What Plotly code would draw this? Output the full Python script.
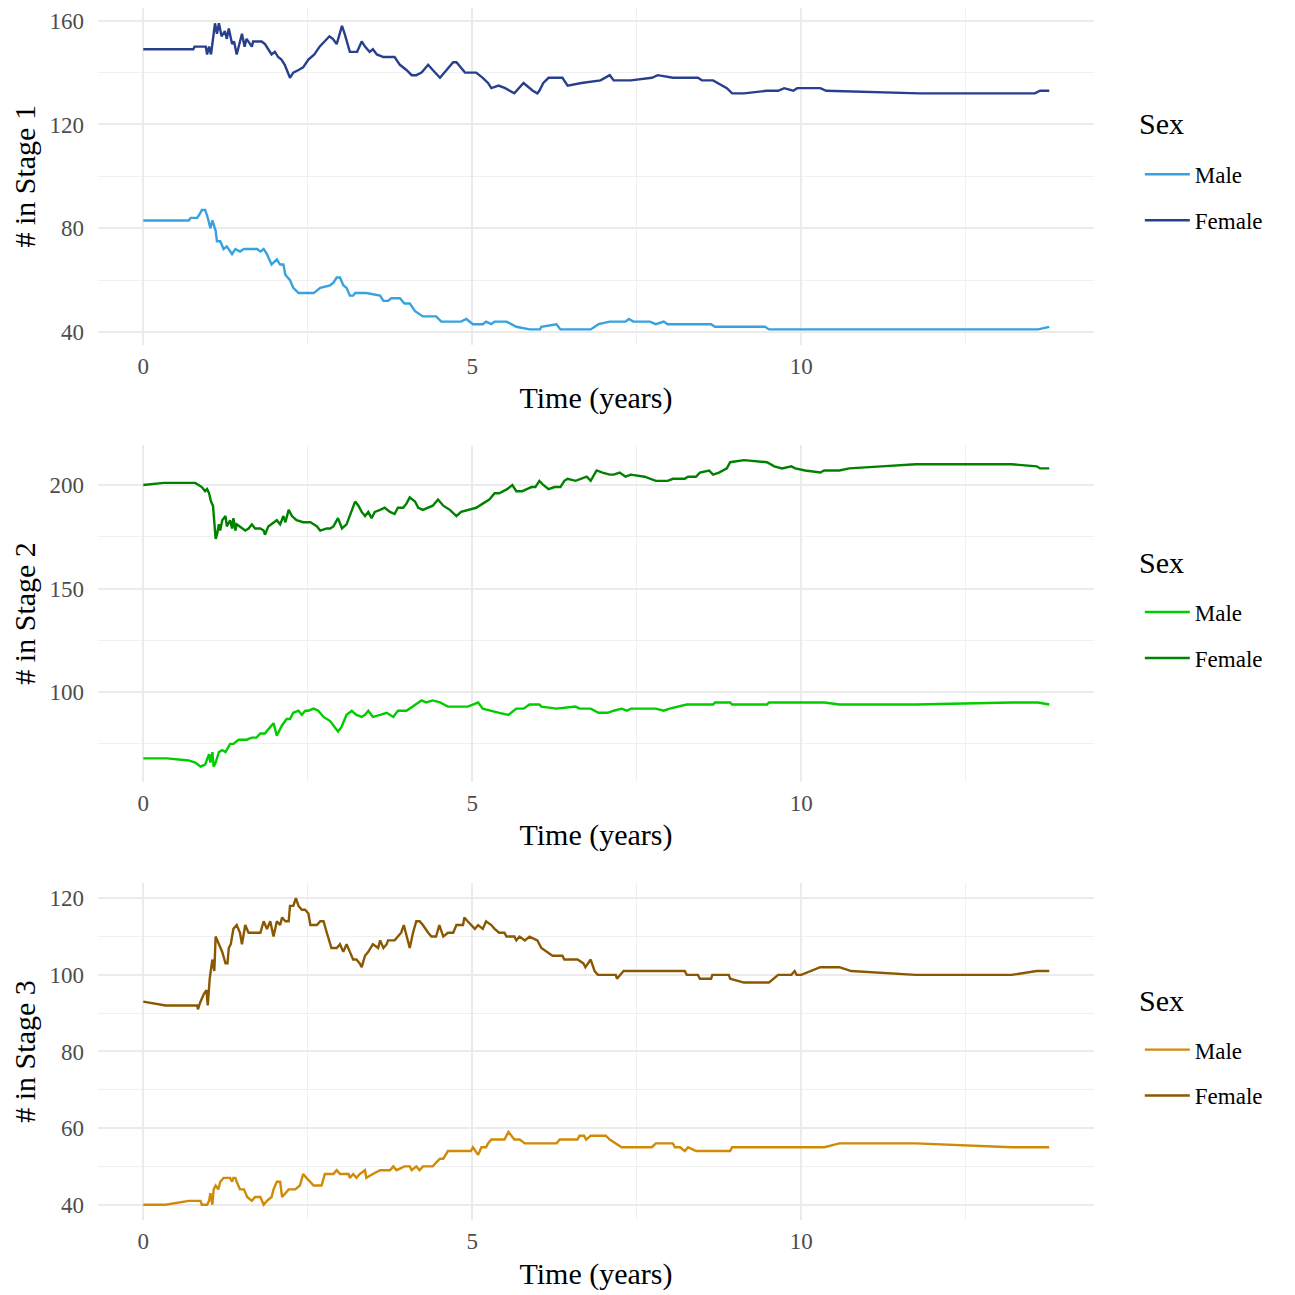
import plotly.graph_objects as go

# ---------------- data ----------------
# Stage 1
s1_f_t = [0, 0.76, 0.78, 0.95, 0.97, 1.0, 1.03, 1.09, 1.12, 1.15, 1.19, 1.24, 1.27, 1.30, 1.35, 1.38, 1.42, 1.50, 1.54,
          1.57, 1.65, 1.67, 1.80, 1.85, 1.90, 1.95, 2.00, 2.05, 2.10, 2.15, 2.23, 2.28, 2.36, 2.43, 2.51, 2.60, 2.68,
          2.75, 2.83, 2.88, 2.94, 3.02, 3.06, 3.14, 3.22, 3.25, 3.32, 3.37, 3.44, 3.49, 3.55, 3.65, 3.72, 3.82, 3.90,
          4.00, 4.08, 4.15, 4.23, 4.33, 4.40, 4.51, 4.61, 4.71, 4.76, 4.89, 5.06, 5.16, 5.24, 5.29, 5.40, 5.50, 5.64,
          5.78, 5.92, 5.99, 6.02, 6.08, 6.16, 6.37, 6.45, 6.66, 6.95, 7.09, 7.15, 7.41, 7.73, 7.82, 8.05, 8.43, 8.49,
          8.66, 8.87, 8.95, 9.13, 9.48, 9.65, 9.74, 9.88, 9.94, 10.29, 10.38, 11.80, 13.55, 13.63, 13.77]
s1_f_v = [149, 149, 150, 150, 147, 150, 147, 159, 155, 159, 154, 156, 153, 157, 151, 152, 147, 155, 150,
          153, 150, 152, 152, 151, 149, 147, 148, 146, 145, 143, 138, 140, 141, 142, 145, 147, 150,
          152, 154, 153, 151, 158, 155, 148, 148, 148, 152, 150, 148, 149, 147, 146, 146, 146, 143,
          141, 139, 139, 140, 143, 141, 138, 141, 144, 144, 140, 140, 138, 136, 134, 135, 134, 132,
          136, 133, 132, 133, 136, 138, 138, 135, 136, 137, 139, 137, 137, 138, 139, 138, 138, 137,
          137, 134, 132, 132, 133, 133, 134, 133, 134, 134, 133, 132, 132, 133, 133]
s1_m_t = [0, 0.69, 0.72, 0.82, 0.87, 0.89, 0.94, 0.97, 1.02, 1.05, 1.10, 1.12, 1.17, 1.22, 1.27, 1.35, 1.40, 1.47,
          1.53, 1.73, 1.78, 1.83, 1.88, 1.95, 2.03, 2.08, 2.13, 2.16, 2.23, 2.28, 2.36, 2.56, 2.59, 2.69, 2.84, 2.89,
          2.94, 2.99, 3.04, 3.09, 3.14, 3.19, 3.22, 3.34, 3.39, 3.60, 3.65, 3.72, 3.77, 3.90, 3.97, 4.05, 4.13, 4.25,
          4.35, 4.45, 4.53, 4.83, 4.91, 5.01, 5.16, 5.21, 5.29, 5.34, 5.52, 5.67, 5.87, 6.03, 6.05, 6.28, 6.34, 6.80,
          6.92, 7.09, 7.33, 7.38, 7.45, 7.70, 7.79, 7.91, 7.97, 8.63, 8.69, 9.45, 9.51, 13.60, 13.77]
s1_m_v = [83, 83, 84, 84, 86, 87, 87, 85, 80, 83, 79, 75, 75, 72, 73, 70, 72, 71,
          72, 72, 71, 72, 70, 66, 68, 66, 66, 62, 60, 57, 55, 55, 55, 57, 58, 59,
          61, 61, 58, 57, 54, 54, 55, 55, 55, 54, 52, 52, 53, 53, 51, 51, 48, 46,
          46, 46, 44, 44, 45, 43, 43, 44, 43, 44, 44, 42, 41, 41, 42, 43, 41, 41,
          43, 44, 44, 45, 44, 44, 43, 44, 43, 43, 42, 42, 41, 41, 42]

# Stage 2
s2_f_t = [0, 0.31, 0.79, 0.84, 0.89, 0.94, 0.97, 1.00, 1.03, 1.06, 1.10, 1.12, 1.15, 1.17, 1.20, 1.25, 1.27, 1.32,
          1.35, 1.37, 1.40, 1.42, 1.47, 1.55, 1.60, 1.65, 1.70, 1.78, 1.83, 1.85, 1.90, 1.98, 2.03, 2.08, 2.13, 2.16,
          2.21, 2.26, 2.33, 2.43, 2.54, 2.59, 2.64, 2.69, 2.79, 2.84, 2.89, 2.96, 3.02, 3.09, 3.17, 3.22, 3.27, 3.32,
          3.37, 3.42, 3.47, 3.52, 3.60, 3.67, 3.75, 3.82, 3.87, 3.95, 4.00, 4.05, 4.13, 4.18, 4.25, 4.33, 4.40, 4.48,
          4.56, 4.66, 4.76, 4.83, 4.96, 5.06, 5.16, 5.26, 5.34, 5.41, 5.53, 5.61, 5.67, 5.76, 5.83, 5.90, 5.96, 6.02,
          6.08, 6.16, 6.25, 6.34, 6.40, 6.45, 6.57, 6.66, 6.74, 6.80, 6.89, 6.98, 7.09, 7.15, 7.24, 7.33, 7.41, 7.62,
          7.79, 7.97, 8.05, 8.23, 8.28, 8.40, 8.46, 8.60, 8.66, 8.75, 8.87, 8.92, 9.13, 9.48, 9.59, 9.71, 9.85, 9.91,
          10.06, 10.29, 10.35, 10.58, 10.73, 11.22, 11.74, 13.20, 13.58, 13.63, 13.77]
s2_f_v = [200, 201, 201, 200, 199, 197, 198, 196, 192, 190, 174, 176, 181, 178, 183, 185, 180, 183,
          179, 184, 178, 181, 180, 178, 179, 181, 179, 179, 178, 176, 180, 182, 183, 181, 185, 182,
          188, 185, 183, 182, 182, 181, 180, 178, 179, 179, 180, 184, 179, 181, 188, 192, 190, 187,
          185, 187, 184, 187, 188, 189, 187, 186, 189, 189, 191, 194, 192, 189, 188, 189, 190, 193,
          190, 188, 185, 187, 188, 189, 191, 193, 196, 196, 198, 200, 197, 197, 198, 199, 199, 202,
          200, 198, 199, 199, 202, 203, 202, 203, 204, 202, 207, 206, 205, 205, 206, 204, 205, 204,
          202, 202, 203, 203, 204, 204, 206, 207, 205, 206, 208, 211, 212, 211, 209, 208, 209, 208,
          207, 206, 207, 207, 208, 209, 210, 210, 209, 208, 208]
s2_m_t = [0, 0.36, 0.69, 0.79, 0.87, 0.94, 1.00, 1.02, 1.05, 1.07, 1.10, 1.15, 1.20, 1.25, 1.32, 1.37, 1.45, 1.57,
          1.65, 1.72, 1.78, 1.85, 1.90, 1.95, 1.98, 2.03, 2.11, 2.18, 2.23, 2.28, 2.36, 2.41, 2.46, 2.51, 2.59, 2.66,
          2.74, 2.84, 2.91, 2.96, 3.01, 3.09, 3.17, 3.24, 3.32, 3.37, 3.42, 3.49, 3.60, 3.70, 3.80, 3.87, 4.00, 4.10,
          4.18, 4.23, 4.30, 4.40, 4.51, 4.63, 4.86, 4.93, 5.01, 5.09, 5.16, 5.31, 5.41, 5.55, 5.67, 5.78, 5.87, 6.02,
          6.05, 6.28, 6.57, 6.63, 6.80, 6.92, 7.06, 7.15, 7.27, 7.35, 7.41, 7.79, 7.91, 8.00, 8.14, 8.26, 8.43, 8.66,
          8.69, 8.92, 8.95, 9.48, 9.51, 10.35, 10.58, 11.74, 13.20, 13.60, 13.77]
s2_m_v = [68, 68, 67, 66, 64, 65, 70, 66, 71, 64, 66, 71, 72, 71, 75, 75, 77, 77,
          78, 78, 80, 80, 82, 84, 85, 79, 84, 87, 87, 90, 91, 89, 91, 91, 92, 91,
          88, 86, 83, 81, 83, 89, 91, 89, 88, 89, 91, 88, 89, 90, 88, 91, 91, 93,
          95, 96, 95, 96, 95, 93, 93, 93, 94, 95, 92, 91, 90, 89, 92, 92, 94, 94,
          93, 92, 93, 92, 92, 90, 90, 91, 92, 91, 92, 92, 91, 92, 93, 94, 94, 94,
          95, 95, 94, 94, 95, 95, 94, 94, 95, 95, 94]

# Stage 3
s3_f_t = [0, 0.34, 0.82, 0.83, 0.87, 0.92, 0.96, 0.98, 1.01, 1.05, 1.08, 1.10, 1.15, 1.20, 1.25, 1.28, 1.30, 1.33,
          1.37, 1.42, 1.47, 1.50, 1.55, 1.60, 1.65, 1.78, 1.83, 1.88, 1.93, 1.98, 2.03, 2.08, 2.11, 2.16, 2.21, 2.23,
          2.28, 2.32, 2.36, 2.41, 2.46, 2.51, 2.54, 2.64, 2.69, 2.74, 2.79, 2.86, 2.94, 2.99, 3.04, 3.09, 3.14, 3.19,
          3.24, 3.29, 3.32, 3.37, 3.42, 3.49, 3.57, 3.60, 3.65, 3.70, 3.72, 3.82, 3.87, 3.92, 3.96, 4.00, 4.05, 4.10,
          4.15, 4.20, 4.25, 4.33, 4.38, 4.45, 4.50, 4.56, 4.63, 4.71, 4.76, 4.86, 4.88, 4.93, 4.98, 5.04, 5.09, 5.16,
          5.21, 5.29, 5.34, 5.41, 5.49, 5.52, 5.64, 5.67, 5.72, 5.80, 5.87, 5.99, 6.05, 6.13, 6.22, 6.37, 6.40, 6.60,
          6.69, 6.72, 6.80, 6.86, 6.91, 7.18, 7.20, 7.30, 8.23, 8.26, 8.43, 8.46, 8.63, 8.65, 8.90, 8.92, 9.13, 9.51,
          9.65, 9.85, 9.90, 9.93, 10.00, 10.29, 10.58, 10.76, 11.74, 13.20, 13.58, 13.77]
s3_f_v = [93, 92, 92, 91, 93, 95, 96, 92, 99, 104, 101, 110, 108, 106, 103, 103, 107, 108,
          112, 113, 111, 108, 113, 111, 111, 111, 114, 112, 114, 110, 114, 113, 115, 114, 114, 118,
          118, 120, 118, 117, 117, 116, 113, 113, 114, 114, 111, 107, 107, 108, 106, 108, 106, 104,
          104, 103, 102, 105, 106, 108, 107, 109, 107, 108, 109, 109, 110, 111, 113, 110, 107, 111,
          114, 114, 113, 111, 110, 110, 113, 110, 111, 111, 113, 113, 115, 114, 113, 112, 113, 112,
          114, 113, 112, 111, 111, 110, 110, 109, 110, 109, 110, 109, 107, 106, 105, 105, 104, 104,
          103, 102, 104, 101, 100, 100, 99, 101, 101, 100, 100, 99, 99, 100, 100, 99, 98, 98,
          100, 100, 101, 100, 100, 102, 102, 101, 100, 100, 101, 101]
s3_m_t = [0, 0.34, 0.69, 0.87, 0.89, 0.97, 1.00, 1.02, 1.05, 1.07, 1.10, 1.14, 1.17, 1.22, 1.32, 1.35, 1.37, 1.40,
          1.42, 1.47, 1.53, 1.58, 1.65, 1.70, 1.78, 1.83, 1.88, 1.95, 1.98, 2.03, 2.08, 2.11, 2.16, 2.21, 2.26, 2.31,
          2.38, 2.43, 2.48, 2.54, 2.59, 2.71, 2.76, 2.89, 2.94, 2.99, 3.12, 3.14, 3.19, 3.24, 3.29, 3.37, 3.39, 3.49,
          3.60, 3.75, 3.80, 3.85, 3.97, 4.05, 4.08, 4.15, 4.20, 4.25, 4.40, 4.45, 4.51, 4.56, 4.63, 4.98, 5.01, 5.09,
          5.14, 5.21, 5.24, 5.29, 5.49, 5.55, 5.64, 5.72, 5.80, 6.28, 6.33, 6.60, 6.63, 6.70, 6.73, 6.80, 7.03, 7.09,
          7.18, 7.27, 7.73, 7.79, 8.05, 8.08, 8.16, 8.23, 8.28, 8.40, 8.92, 8.95, 10.35, 10.58, 11.74, 13.20, 13.77]
s3_m_v = [40, 40, 41, 41, 40, 40, 41, 43, 40, 44, 45, 44, 46, 47, 47, 46, 47, 47,
          46, 44, 44, 42, 41, 42, 42, 40, 41, 42, 44, 46, 46, 42, 43, 44, 44, 44,
          45, 48, 47, 46, 45, 45, 48, 48, 49, 48, 48, 47, 48, 47, 48, 49, 47, 48,
          49, 49, 50, 49, 50, 50, 49, 50, 49, 50, 50, 51, 52, 52, 54, 54, 55, 53,
          55, 55, 56, 57, 57, 59, 57, 57, 56, 56, 57, 57, 58, 58, 57, 58, 58, 57,
          56, 55, 55, 56, 56, 55, 55, 54, 55, 54, 54, 55, 55, 56, 56, 55, 55]

sex_labels = ["Male", "Female"]
stage_titles = ["# in Stage 1", "# in Stage 2", "# in Stage 3"]
x_title = "Time (years)"
legend_title = "Sex"

# ---------------- styling ----------------
FONT = "Liberation Serif"
colors = [("#36A2E0", "#283F8E"), ("#00CC00", "#008200"), ("#D08A06", "#8A5800")]
series = [((s1_m_t, s1_m_v), (s1_f_t, s1_f_v)),
          ((s2_m_t, s2_m_v), (s2_f_t, s2_f_v)),
          ((s3_m_t, s3_m_v), (s3_f_t, s3_f_v))]
y_ranges = [[35.1, 164.9], [56.6, 219.4], [36, 124]]
y_dtick = [40, 50, 20]
y_domains = [[0.7222, 1.0], [0.3614, 0.6396], [0.0, 0.2781]]
legend_top = [0.8805, 0.5193, 0.1583]
sex_title_y = [0.9044, 0.5425, 0.1814]

fig = go.Figure()
for i in range(3):
    ax = "" if i == 0 else str(i + 1)
    leg = "legend" if i == 0 else f"legend{i + 1}"
    for j in range(2):
        t, v = series[i][j]
        fig.add_trace(go.Scatter(
            x=t, y=v, mode="lines", name=sex_labels[j],
            line=dict(color=colors[i][j], width=2.4),
            xaxis="x" + ax, yaxis="y" + ax, legend=leg,
            legendgroup=f"g{i}{j}", showlegend=True,
        ))

layout = dict(
    width=1287, height=1287,
    margin=dict(l=90, r=201, t=0, b=75, autoexpand=False),
    paper_bgcolor="white", plot_bgcolor="white",
    font=dict(family=FONT, size=23, color="#4D4D4D"),
    annotations=[],
)
grid_major = "#EBEBEB"
for i in range(3):
    ax = "" if i == 0 else str(i + 1)
    layout["xaxis" + ax] = dict(
        domain=[0, 1], anchor="y" + ax, range=[-0.688, 14.45], automargin=False,
        tick0=0, dtick=5, showgrid=True, gridcolor=grid_major, gridwidth=2,
        minor=dict(dtick=2.5, tick0=0, showgrid=True, gridcolor="#F0F0F0", gridwidth=1),
        zeroline=False, showline=False, ticks="", ticklabelstandoff=5,
        tickfont=dict(family=FONT, size=23, color="#4D4D4D"),
        title=dict(text=x_title, font=dict(family=FONT, size=30, color="black"), standoff=9),
    )
    layout["yaxis" + ax] = dict(
        domain=y_domains[i], anchor="x" + ax, range=y_ranges[i], automargin=False,
        tick0=0, dtick=y_dtick[i], showgrid=True, gridcolor=grid_major, gridwidth=2,
        minor=dict(dtick=y_dtick[i] / 2, tick0=0, showgrid=True, gridcolor="#F0F0F0", gridwidth=1),
        zeroline=False, showline=False, ticks="", ticklabelstandoff=13,
        tickfont=dict(family=FONT, size=23, color="#4D4D4D"),
        title=dict(text=stage_titles[i], font=dict(family=FONT, size=30, color="black"), standoff=14),
    )
    leg = "legend" if i == 0 else f"legend{i + 1}"
    layout[leg] = dict(
        x=1.046, xanchor="left", y=legend_top[i], yanchor="top",
        font=dict(family=FONT, size=23, color="black"),
        traceorder="grouped", tracegroupgap=13, itemwidth=45,
        bgcolor="rgba(0,0,0,0)",
    )
    layout["annotations"].append(dict(
        text=legend_title, xref="paper", yref="paper", x=1.043, y=sex_title_y[i],
        xanchor="left", yanchor="middle", showarrow=False,
        font=dict(family=FONT, size=30, color="black"),
    ))

fig.update_layout(**layout)
fig.write_html("out.html")
